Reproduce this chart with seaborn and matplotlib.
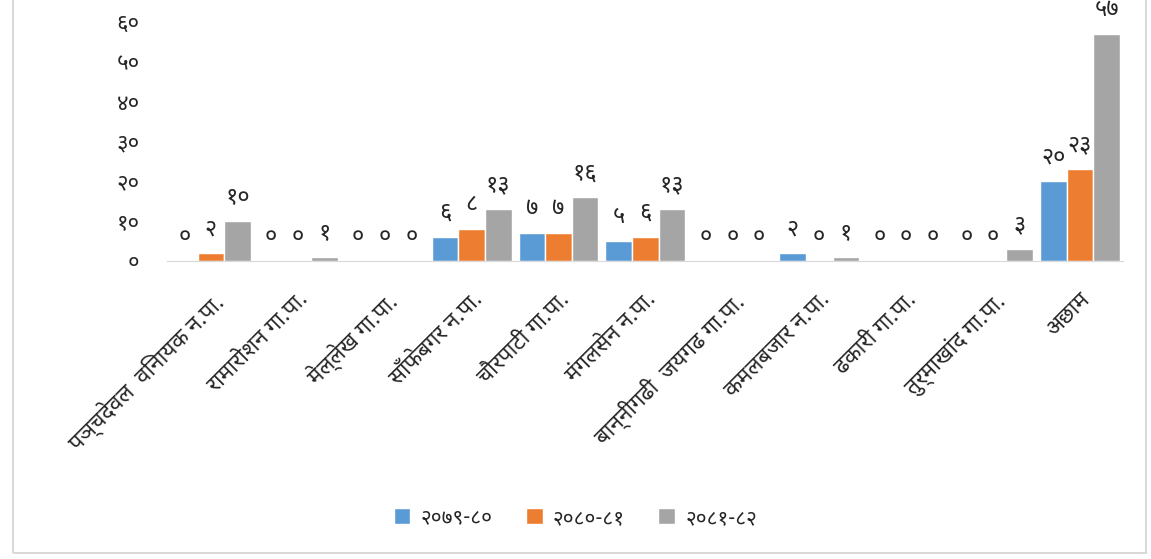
import matplotlib
matplotlib.use("Agg")
import matplotlib.pyplot as plt
import seaborn as sns
import pandas as pd
from matplotlib import font_manager
from matplotlib.patches import Rectangle

# data
categories = ["पञ्चदेवल  विनायक न.पा.", "रामारोशन गा.पा.", "मेल्लेख गा.पा.", "साँफेबगर न.पा.",
              "चौरपाटी गा.पा.", "मंगलसेन न.पा.", "बान्नीगढी  जयगढ गा.पा.", "कमलबजार न.पा.",
              "ढकारी गा.पा.", "तुर्माखांद गा.पा.", "अछाम"]
series = ["२०७९-८०", "२०८०-८१", "२०८१-८२"]
v_7980 = [0, 0, 0, 6, 7, 5, 0, 2, 0, 0, 20]
v_8081 = [2, 0, 0, 8, 7, 6, 0, 0, 0, 0, 23]
v_8182 = [10, 1, 0, 13, 16, 13, 0, 1, 0, 3, 57]
yticks = [0, 10, 20, 30, 40, 50, 60]
colors = ["#5B9BD5", "#ED7D31", "#A5A5A5"]


def dev(n):
    return str(n).translate(str.maketrans("0123456789", "०१२३४५६७८९"))


sns.set_style("white")
names = {f.name for f in font_manager.fontManager.ttflist}
prefs = ["Noto Sans Devanagari", "Hind", "Mukta", "Poppins", "FreeSans"]
deva = [n for n in prefs if n in names][:1]
plt.rcParams["font.family"] = deva + ["DejaVu Sans"]

df = pd.DataFrame({
    "cat": categories * 3,
    "year": [s for s in series for _ in categories],
    "val": v_7980 + v_8081 + v_8182,
})

fig = plt.figure(figsize=(11.51, 5.59), dpi=100)
ax = fig.add_axes([0.1455, 0.533, 0.8305, 0.4275])

sns.barplot(data=df, x="cat", y="val", hue="year", palette=colors, width=0.92,
            saturation=1, edgecolor="white", linewidth=1, ax=ax, legend=True)

# value labels above every bar (zeros included)
for cont in ax.containers:
    for bar in cont:
        h = bar.get_height()
        ax.annotate(dev(int(round(h))), (bar.get_x() + bar.get_width() / 2, h),
                    xytext=(0, 13), textcoords="offset points", ha="center", va="baseline",
                    fontsize=17, color="#262626")

ax.set_ylim(0, 60)
ax.set_xlim(-0.5, len(categories) - 0.5)
ax.set_yticks(yticks)
ax.set_yticklabels([dev(t) for t in yticks], fontsize=16, color="#262626")
ax.set_xticks(range(len(categories)))
ax.set_xticklabels(categories, rotation=45, ha="right", rotation_mode="anchor",
                   fontsize=16, color="#262626")
ax.tick_params(axis="y", length=0, pad=20)
ax.tick_params(axis="x", length=0, pad=20)
ax.set_xlabel("")
ax.set_ylabel("")
for s in ["top", "right", "left"]:
    ax.spines[s].set_visible(False)
ax.spines["bottom"].set_color("#D9D9D9")

ax.legend_.remove()
handles, labels = ax.get_legend_handles_labels()
fig.legend(handles, labels, loc="center", bbox_to_anchor=(0.5, 0.073), ncol=3,
           frameon=False, fontsize=15, handlelength=0.8, handleheight=0.8,
           columnspacing=1.6, handletextpad=0.5)

fig.add_artist(Rectangle((0.011, 0.01), 0.985, 1.05, transform=fig.transFigure,
                         fill=False, edgecolor="#D9D9D9", linewidth=1.5))

fig.savefig("out.png", dpi=100)
